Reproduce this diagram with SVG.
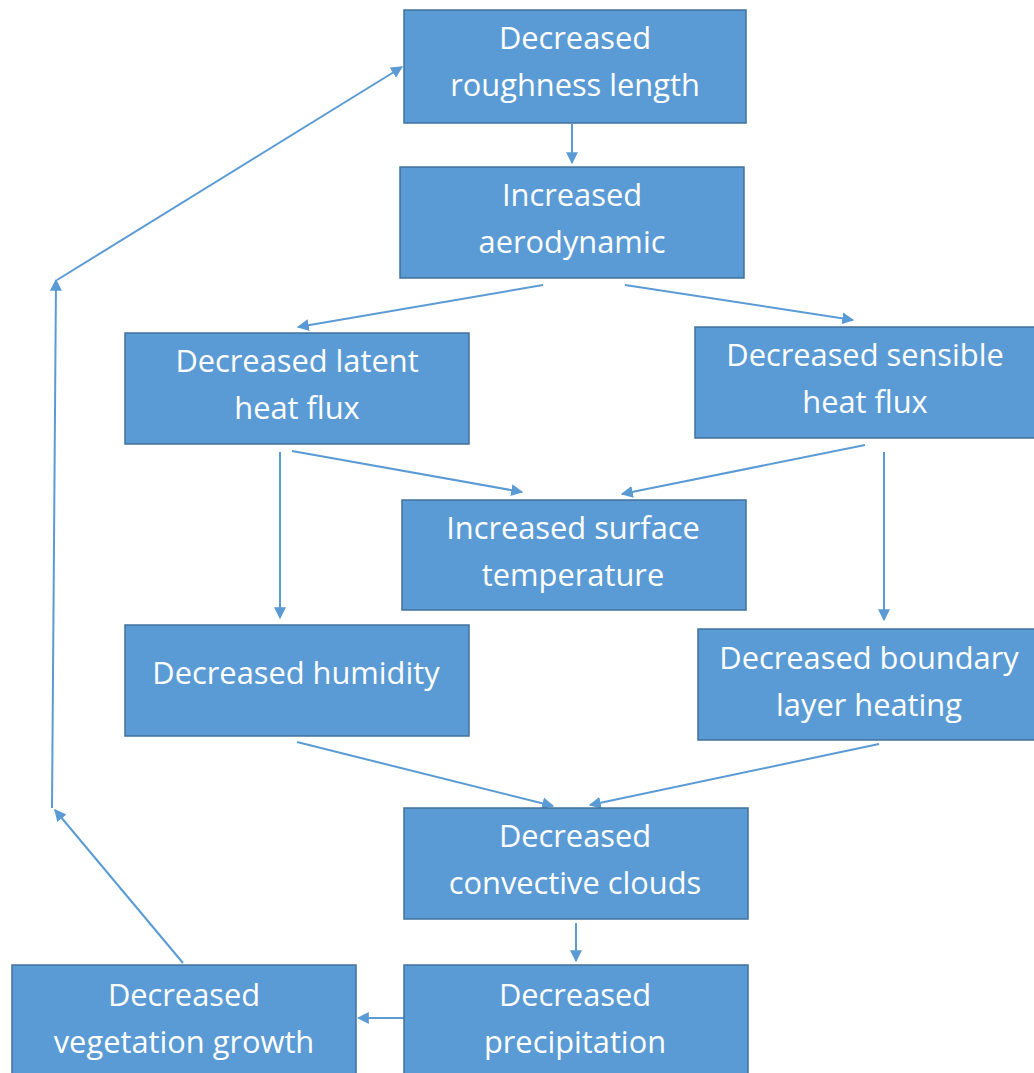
<svg xmlns="http://www.w3.org/2000/svg" width="1034" height="1073" viewBox="0 0 1034 1073">
<style>
.box{fill:#5B9BD5;stroke:#41719C;stroke-width:1.5}
.t{fill:#fff;font-family:"Open Sans","Liberation Sans",sans-serif;font-size:30.8px;text-anchor:middle}
.c{stroke:#5B9BD5;stroke-width:2;fill:none;marker-end:url(#ah)}
</style>
<defs>
<marker id="ah" viewBox="0 0 10 10" refX="9" refY="5" markerWidth="6" markerHeight="6" orient="auto" markerUnits="strokeWidth">
<path d="M0,0 L10,5 L0,10 z" fill="#5B9BD5"/>
</marker>
</defs>
<rect width="1034" height="1073" fill="#fff"/>
<g id="connectors">
<line class="c" x1="572" y1="124" x2="572" y2="163"/>
<line class="c" x1="543" y1="285" x2="298" y2="327"/>
<line class="c" x1="625" y1="285" x2="853" y2="320"/>
<line class="c" x1="280" y1="452" x2="280" y2="618"/>
<line class="c" x1="292" y1="451" x2="522" y2="492"/>
<line class="c" x1="865" y1="445" x2="622" y2="494"/>
<line class="c" x1="884" y1="452" x2="884" y2="620"/>
<line class="c" x1="297" y1="742" x2="553" y2="806"/>
<line class="c" x1="879" y1="744" x2="590" y2="805"/>
<line class="c" x1="576" y1="923" x2="576" y2="961"/>
<line class="c" x1="404" y1="1018" x2="358" y2="1018"/>
<line class="c" x1="183" y1="963" x2="55" y2="810"/>
<line class="c" x1="52" y1="808" x2="56" y2="280"/>
<line class="c" x1="57" y1="280" x2="402" y2="67"/>
</g>
<g id="n1"><rect class="box" x="404" y="10" width="342" height="113"/><text class="t" x="575" y="49">Decreased</text><text class="t" x="575" y="96">roughness length</text></g>
<g id="n2"><rect class="box" x="400" y="167" width="344" height="111"/><text class="t" x="572" y="206">Increased</text><text class="t" x="572" y="253">aerodynamic</text></g>
<g id="n3"><rect class="box" x="125" y="333" width="344" height="111"/><text class="t" x="297" y="372">Decreased latent</text><text class="t" x="297" y="419">heat flux</text></g>
<g id="n4"><rect class="box" x="695" y="327" width="340" height="111"/><text class="t" x="865" y="366">Decreased sensible</text><text class="t" x="865" y="413">heat flux</text></g>
<g id="n5"><rect class="box" x="402" y="500" width="344" height="110"/><text class="t" x="573" y="539">Increased surface</text><text class="t" x="573" y="586">temperature</text></g>
<g id="n6"><rect class="box" x="125" y="625" width="344" height="111"/><text class="t" x="296" y="684">Decreased humidity</text></g>
<g id="n7"><rect class="box" x="698" y="629" width="337" height="111"/><text class="t" x="869" y="669">Decreased boundary</text><text class="t" x="869" y="716">layer heating</text></g>
<g id="n8"><rect class="box" x="404" y="808" width="344" height="111"/><text class="t" x="575" y="847">Decreased</text><text class="t" x="575" y="894">convective clouds</text></g>
<g id="n9"><rect class="box" x="404" y="965" width="344" height="115"/><text class="t" x="575" y="1006">Decreased</text><text class="t" x="575" y="1053">precipitation</text></g>
<g id="n10"><rect class="box" x="12" y="965" width="344" height="115"/><text class="t" x="184" y="1006">Decreased</text><text class="t" x="184" y="1053">vegetation growth</text></g>
</svg>
